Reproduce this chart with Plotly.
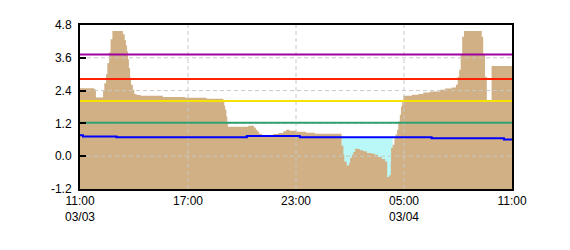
import plotly.graph_objects as go
from datetime import datetime, timedelta

D0 = "2021-03-03"
D1 = "2021-03-04"

# Brown area (level) - step series
level_times = [
    (D0, "11:00"), (D0, "11:47"), (D0, "11:53"), (D0, "12:17"), (D0, "12:21"), (D0, "12:27"),
    (D0, "12:31"), (D0, "12:37"), (D0, "12:42"), (D0, "12:48"), (D0, "13:23"), (D0, "13:29"),
    (D0, "13:33"), (D0, "13:37"), (D0, "13:40"), (D0, "13:43"), (D0, "13:47"), (D0, "13:50"),
    (D0, "13:56"), (D0, "14:01"), (D0, "14:09"), (D0, "14:22"), (D0, "15:36"), (D0, "16:50"),
    (D0, "18:02"), (D0, "18:58"), (D0, "19:01"), (D0, "19:04"), (D0, "19:08"), (D0, "19:11"),
    (D0, "19:13"), (D0, "20:21"), (D0, "20:40"), (D0, "20:46"), (D0, "20:51"), (D0, "20:57"),
    (D0, "21:06"), (D0, "21:10"), (D0, "21:33"), (D0, "21:44"), (D0, "22:01"), (D0, "22:18"),
    (D0, "22:27"), (D0, "22:38"), (D0, "23:02"), (D0, "23:33"), (D1, "00:03"), (D1, "01:32"),
    (D1, "01:38"), (D1, "01:41"), (D1, "01:49"), (D1, "01:57"), (D1, "02:00"), (D1, "02:06"),
    (D1, "02:11"), (D1, "02:17"), (D1, "02:27"), (D1, "02:33"), (D1, "02:44"), (D1, "02:56"),
    (D1, "03:12"), (D1, "03:23"), (D1, "03:34"), (D1, "03:46"), (D1, "03:57"), (D1, "04:04"),
    (D1, "04:11"), (D1, "04:16"), (D1, "04:17"), (D1, "04:22"), (D1, "04:28"), (D1, "04:32"),
    (D1, "04:37"), (D1, "04:41"), (D1, "04:46"), (D1, "04:50"), (D1, "04:54"), (D1, "04:58"),
    (D1, "05:26"), (D1, "05:48"), (D1, "06:04"), (D1, "06:27"), (D1, "07:00"), (D1, "07:17"),
    (D1, "07:39"), (D1, "07:53"), (D1, "07:59"), (D1, "08:04"), (D1, "08:09"), (D1, "08:14"),
    (D1, "08:20"), (D1, "09:19"), (D1, "09:24"), (D1, "09:30"), (D1, "09:36"), (D1, "09:52"),
    (D1, "11:00"),
]
level_values = [
    2.49, 2.45, 2.15, 2.39, 2.67, 3.01,
    3.40, 3.79, 4.28, 4.58, 4.46, 4.25,
    4.05, 3.83, 3.55, 3.22, 2.88, 2.61,
    2.43, 2.28, 2.24, 2.21, 2.17, 2.14,
    2.10, 2.00, 1.85, 1.70, 1.45, 1.25,
    1.08, 1.11, 1.05, 0.97, 0.90, 0.82,
    0.75, 0.72, 0.77, 0.81, 0.85, 0.91,
    0.97, 0.93, 0.89, 0.86, 0.82, 0.38,
    0.05, -0.19, -0.34, -0.25, -0.07, 0.05,
    0.15, 0.27, 0.26, 0.22, 0.18, 0.12,
    0.09, 0.05, -0.03, -0.10, -0.19, -0.76,
    -0.70, -0.19, 0.30, 0.42, 0.66, 0.79,
    0.97, 1.27, 1.52, 1.82, 2.00, 2.21,
    2.25, 2.28, 2.33, 2.37, 2.43, 2.48,
    2.51, 2.61, 2.91, 3.16, 3.71, 4.37,
    4.58, 4.37, 3.71, 2.91, 1.98, 3.30,
    3.30,
]

# Blue reference line (step)
ref_times = [(D0, "11:00"), (D0, "11:10"), (D0, "13:02"), (D0, "20:16"), (D0, "23:13"),
             (D1, "06:32"), (D1, "10:33"), (D1, "11:00")]
ref_values = [0.77, 0.72, 0.69, 0.74, 0.69, 0.66, 0.61, 0.61]

# Deficit window (cyan)
deficit_times = [(D1, "01:32"), (D1, "04:22")]
deficit_value = 0.69

# Threshold lines
thresholds = [3.72, 2.82, 2.02, 1.22]
threshold_colors = ["#A000A0", "#FF2000", "#F5E200", "#30A070"]

# Axes
y_ticks = [-1.2, 0.0, 1.2, 2.4, 3.6, 4.8]
y_ticktext = ["-1.2", "0.0", "1.2", "2.4", "3.6", "4.8"]
x_ticks = [(D0, "11:00"), (D0, "17:00"), (D0, "23:00"), (D1, "05:00"), (D1, "11:00")]
x_ticktext = ["11:00<br>03/03", "17:00", "23:00", "05:00<br>03/04", "11:00"]


def ts(p):
    return datetime.strptime(p[0] + " " + p[1], "%Y-%m-%d %H:%M")


lx = [ts(p) for p in level_times]
rx = [ts(p) for p in ref_times]
xt = [ts(p) for p in x_ticks]
ymin, ymax = y_ticks[0], y_ticks[-1]
xmin, xmax = xt[0], xt[-1]

fig = go.Figure()

# cyan deficit area: baseline then fill up to the reference line
dx = [ts(p) for p in deficit_times]
fig.add_trace(go.Scatter(x=dx, y=[ymin, ymin], mode="lines", line=dict(width=0),
                         showlegend=False, hoverinfo="skip"))
fig.add_trace(go.Scatter(x=dx, y=[deficit_value, deficit_value], mode="lines",
                         line=dict(width=0), fill="tonexty", fillcolor="#BAF8F8",
                         showlegend=False, hoverinfo="skip"))

# brown level area
fig.add_trace(go.Scatter(x=[xmin, xmax], y=[ymin, ymin], mode="lines", line=dict(width=0),
                         showlegend=False, hoverinfo="skip"))
fig.add_trace(go.Scatter(x=lx, y=level_values, mode="lines", line=dict(width=0, shape="hv"),
                         fill="tonexty", fillcolor="#D0B084", showlegend=False))

# grid lines (dashed, above the fill)
gx, gy = [], []
for t in xt[1:-1]:
    gx += [t, t, None]
    gy += [ymin, ymax, None]
for v in y_ticks[1:-1]:
    gx += [xmin, xmax, None]
    gy += [v, v, None]
fig.add_trace(go.Scatter(x=gx, y=gy, mode="lines",
                         line=dict(color="#C8C8C8", width=1, dash="4px,3px"),
                         showlegend=False, hoverinfo="skip"))

# thresholds
for v, c in zip(thresholds, threshold_colors):
    fig.add_trace(go.Scatter(x=[xmin, xmax], y=[v, v], mode="lines",
                             line=dict(color=c, width=2), showlegend=False))

# blue reference line
fig.add_trace(go.Scatter(x=rx, y=ref_values, mode="lines",
                         line=dict(color="#0000FF", width=2, shape="hv"), showlegend=False))

fig.update_layout(
    width=570, height=250,
    margin=dict(l=80, r=58, t=25, b=61),
    paper_bgcolor="white", plot_bgcolor="white",
    font=dict(family="Liberation Sans, Arial, sans-serif", size=12, color="black"),
    showlegend=False,
)
fig.update_xaxes(
    range=[xmin, xmax], tickvals=xt, ticktext=x_ticktext, ticks="",
    showgrid=False, zeroline=False, showline=True, mirror=True,
    linecolor="black", linewidth=2, tickangle=0,
)
fig.update_yaxes(
    range=[ymin, ymax], tickvals=y_ticks, ticktext=y_ticktext,
    ticks="inside", ticklen=6, tickwidth=2, tickcolor="black",
    showgrid=False, zeroline=False, showline=True, mirror=True,
    linecolor="black", linewidth=2, ticklabelstandoff=4,
)

fig.write_html("out.html")
